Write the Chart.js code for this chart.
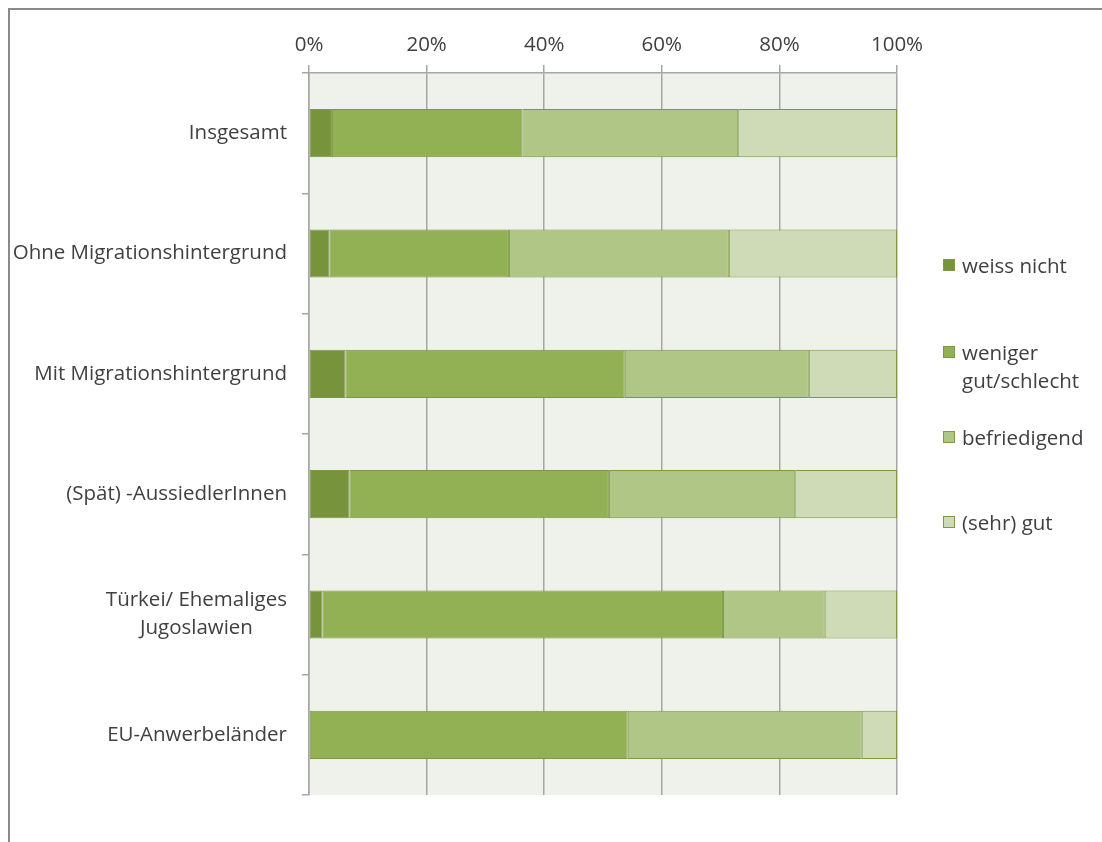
<!DOCTYPE html>
<html lang="de">
<head>
<meta charset="utf-8">
<title>Bewertung nach Herkunft</title>
<script src="https://cdn.jsdelivr.net/npm/chart.js@4.4.1/dist/chart.umd.min.js"></script>
<style>
    html, body { margin: 0; padding: 0; background: #fff; }
    body { width: 1102px; height: 842px; position: relative; overflow: hidden; font-family: "Open Sans", sans-serif; }
    #frame { position: absolute; left: 8px; top: 8px; width: 1200px; height: 900px; border-top: 2px solid #8a8a8a; border-left: 2px solid #8a8a8a; }
    #wrap { position: absolute; left: 0; top: 0; width: 1102px; height: 842px; }
    #legend { position: absolute; left: 943px; top: 0; color: #404040; font-size: 20.5px; }
    .item { position: absolute; left: 0; white-space: nowrap; line-height: 28px; }
    .box { position: absolute; left: 0; top: 8px; width: 12px; height: 12px; border: 1px solid #7d9a45; box-sizing: border-box; }
    .lbl { position: absolute; left: 19px; top: 0; }
</style>
</head>
<body>
<div id="frame"></div>
<div id="wrap"><canvas id="chart" width="1102" height="842"></canvas></div>
<div id="legend"></div>
<script>
// Kategorien (Herkunftsgruppen)
const categories = [
    'Insgesamt',
    'Ohne Migrationshintergrund',
    'Mit Migrationshintergrund',
    '(Spät) -AussiedlerInnen',
    ['Türkei/ Ehemaliges', 'Jugoslawien'],
    'EU-Anwerbeländer'
];

// Anteile in Prozent je Antwort
const weissNicht   = [3.9, 3.5, 6.2, 6.9, 2.3, 0];
const wenigerGut   = [32.4, 30.5, 47.5, 44.1, 68.1, 54.2];
const befriedigend = [36.7, 37.4, 31.3, 31.7, 17.3, 39.8];
const sehrGut      = [27.0, 28.6, 15.0, 17.3, 12.3, 6.0];

const seriesLabels = ['weiss nicht', 'weniger gut/schlecht', 'befriedigend', '(sehr) gut'];
const xTicks = [0, 20, 40, 60, 80, 100];

const colors = ['#77933c', '#92b054', '#afc686', '#cfdbb6'];
const legendTops = [251, 338, 423, 508];
const legendLines = [['weiss nicht'], ['weniger', 'gut/schlecht'], ['befriedigend'], ['(sehr) gut']];

const FONT = '"Open Sans", sans-serif';
const FSIZE = 20.5;
const TEXT = '#404040';

// Hintergrund der Zeichenfläche
const plotBg = {
    id: 'plotBg',
    beforeDraw(chart) {
        const { ctx, chartArea: a } = chart;
        ctx.save();
        ctx.fillStyle = '#eff2ea';
        ctx.fillRect(a.left, a.top, a.right - a.left, a.bottom - a.top);
        ctx.restore();
    }
};

// Kategorienbeschriftung: Block rechtsbündig, Zeilen zentriert
const catLabels = {
    id: 'catLabels',
    afterDraw(chart) {
        const { ctx } = chart;
        const y = chart.scales.y;
        ctx.save();
        ctx.font = FSIZE + 'px ' + FONT;
        ctx.fillStyle = TEXT;
        ctx.textBaseline = 'middle';
        ctx.textAlign = 'center';
        const right = y.right - 22;
        y.ticks.forEach((t, i) => {
            const lines = Array.isArray(categories[i]) ? categories[i] : [categories[i]];
            const w = Math.max(...lines.map(l => ctx.measureText(l).width));
            const cx = right - w / 2;
            const cy = y.getPixelForTick(i);
            const lh = 28;
            lines.forEach((l, j) => {
                ctx.fillText(l, cx, cy + (j - (lines.length - 1) / 2) * lh);
            });
        });
        ctx.restore();
    }
};

const sets = [weissNicht, wenigerGut, befriedigend, sehrGut].map((d, i) => ({
    label: seriesLabels[i],
    data: d,
    backgroundColor: colors[i],
    borderColor: '#7b9742',
    borderWidth: 1,
    borderSkipped: false,
    categoryPercentage: 1,
    barPercentage: 0.4
}));

new Chart(document.getElementById('chart'), {
    type: 'bar',
    data: { labels: categories, datasets: sets },
    options: {
        indexAxis: 'y',
        responsive: false,
        animation: false,
        layout: { padding: { left: 9, top: 8, right: 205, bottom: 47 } },
        plugins: { legend: { display: false }, tooltip: { enabled: false } },
        scales: {
            x: {
                position: 'top',
                stacked: true,
                min: 0,
                max: 100,
                afterFit: s => { s.height = 65; },
                afterBuildTicks: s => { s.ticks = xTicks.map(v => ({ value: v })); },
                ticks: {
                    color: TEXT,
                    font: { family: FONT, size: FSIZE },
                    padding: 8,
                    callback: v => v + '%'
                },
                grid: { color: '#a6a6a6', lineWidth: 1.5, tickLength: 8 },
                border: { color: '#a6a6a6', width: 1.5 }
            },
            y: {
                stacked: true,
                afterFit: s => { s.width = 300; },
                ticks: { color: 'rgba(0,0,0,0)', font: { family: FONT, size: FSIZE } },
                grid: { drawOnChartArea: false, color: '#a6a6a6', lineWidth: 1.5, tickLength: 7, offset: true },
                border: { color: '#a6a6a6', width: 1.5 }
            }
        }
    },
    plugins: [plotBg, catLabels]
});

// Legende rechts
const legend = document.getElementById('legend');
legendLines.forEach((lines, i) => {
    const item = document.createElement('div');
    item.className = 'item';
    item.style.top = legendTops[i] + 'px';
    const box = document.createElement('div');
    box.className = 'box';
    box.style.background = colors[i];
    const lbl = document.createElement('div');
    lbl.className = 'lbl';
    lbl.innerHTML = lines.join('<br>');
    item.appendChild(box);
    item.appendChild(lbl);
    legend.appendChild(item);
});
</script>
</body>
</html>
